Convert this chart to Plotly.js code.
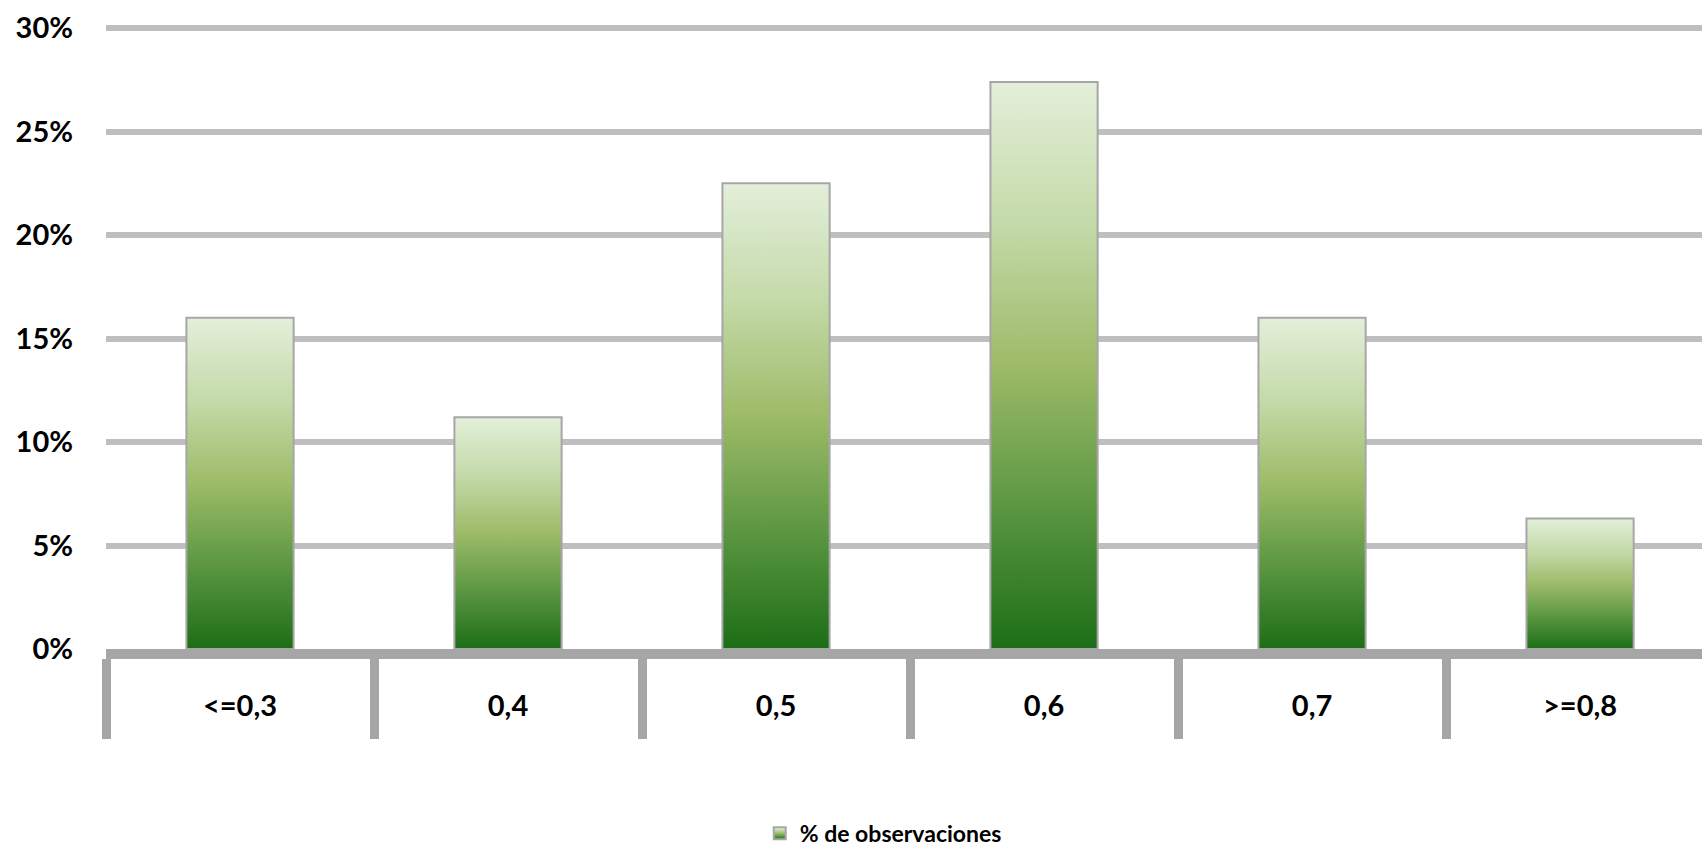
<!DOCTYPE html>
<html>
<head>
<meta charset="utf-8">
<script src="https://cdn.plot.ly/plotly-3.0.1.min.js"></script>
<style>
  html, body { margin: 0; padding: 0; background: #ffffff; overflow: hidden; }
  #chart { width: 1702px; height: 846px; }
</style>
</head>
<body>
<div id="chart"></div>
<script>
// ---- data ----
var categories = ["<=0,3", "0,4", "0,5", "0,6", "0,7", ">=0,8"];
var observaciones = [16.0, 11.2, 22.5, 27.4, 16.0, 6.3];
var seriesName = "% de observaciones";
var yTickValues = [0, 5, 10, 15, 20, 25, 30];
var yTickLabels = ["0%", "5%", "10%", "15%", "20%", "25%", "30%"];

var labelFont = { family: "Lato, 'Liberation Sans', sans-serif", size: 29, color: "#000000", weight: 700 };

var trace = {
  type: "bar",
  name: seriesName,
  x: categories,
  y: observaciones,
  marker: { color: "#8fb35c", line: { color: "#a6a6a6", width: 2 } },
  showlegend: true,
  hoverinfo: "none"
};

var layout = {
  width: 1702,
  height: 846,
  margin: { l: 106, r: 0, t: 26, b: 197, autoexpand: false },
  paper_bgcolor: "#ffffff",
  plot_bgcolor: "#ffffff",
  bargap: 0.6,
  showlegend: true,
  legend: {
    orientation: "h",
    x: 0.487, xanchor: "center",
    y: -0.296, yanchor: "middle",
    font: { family: "Lato, 'Liberation Sans', sans-serif", size: 23, color: "#000000", weight: 700 },
    bgcolor: "rgba(0,0,0,0)"
  },
  xaxis: {
    type: "category",
    range: [-0.5, 5.455],
    showline: true,
    linecolor: "#a6a6a6",
    linewidth: 10,
    ticks: "outside",
    tickson: "boundaries",
    ticklen: 80,
    tickwidth: 9,
    tickcolor: "#a6a6a6",
    showgrid: false,
    zeroline: false,
    tickfont: labelFont,
    ticklabelstandoff: 22,
    fixedrange: true
  },
  yaxis: {
    range: [0, 30.1],
    tickmode: "array",
    tickvals: yTickValues,
    ticktext: yTickLabels,
    showgrid: true,
    gridcolor: "#bfbfbf",
    gridwidth: 6,
    zeroline: false,
    showline: false,
    ticks: "",
    tickfont: labelFont,
    ticklabelstandoff: 32,
    fixedrange: true
  }
};

function applyGradient(gd) {
  var defs = gd.querySelector(".main-svg defs");
  var ns = "http://www.w3.org/2000/svg";
  if (defs && !document.getElementById("barGrad")) {
    var grad = document.createElementNS(ns, "linearGradient");
    grad.setAttribute("id", "barGrad");
    grad.setAttribute("x1", "0"); grad.setAttribute("y1", "0");
    grad.setAttribute("x2", "0"); grad.setAttribute("y2", "1");
    var stops = [[0, "#e3efd9"], [0.25, "#c4daa9"], [0.5, "#9dbb68"], [0.75, "#5b9641"], [1, "#1c6e16"]];
    stops.forEach(function (s) {
      var st = document.createElementNS(ns, "stop");
      st.setAttribute("offset", s[0]);
      st.setAttribute("stop-color", s[1]);
      grad.appendChild(st);
    });
    defs.appendChild(grad);
  }
  gd.querySelectorAll(".barlayer .point path, .legend .legendpoints path").forEach(function (p) {
    p.style.fill = "url(#barGrad)";
  });
}

var gd = document.getElementById("chart");
Plotly.newPlot(gd, [trace], layout, { staticPlot: true, displayModeBar: false }).then(function () {
  applyGradient(gd);
});
</script>
</body>
</html>
